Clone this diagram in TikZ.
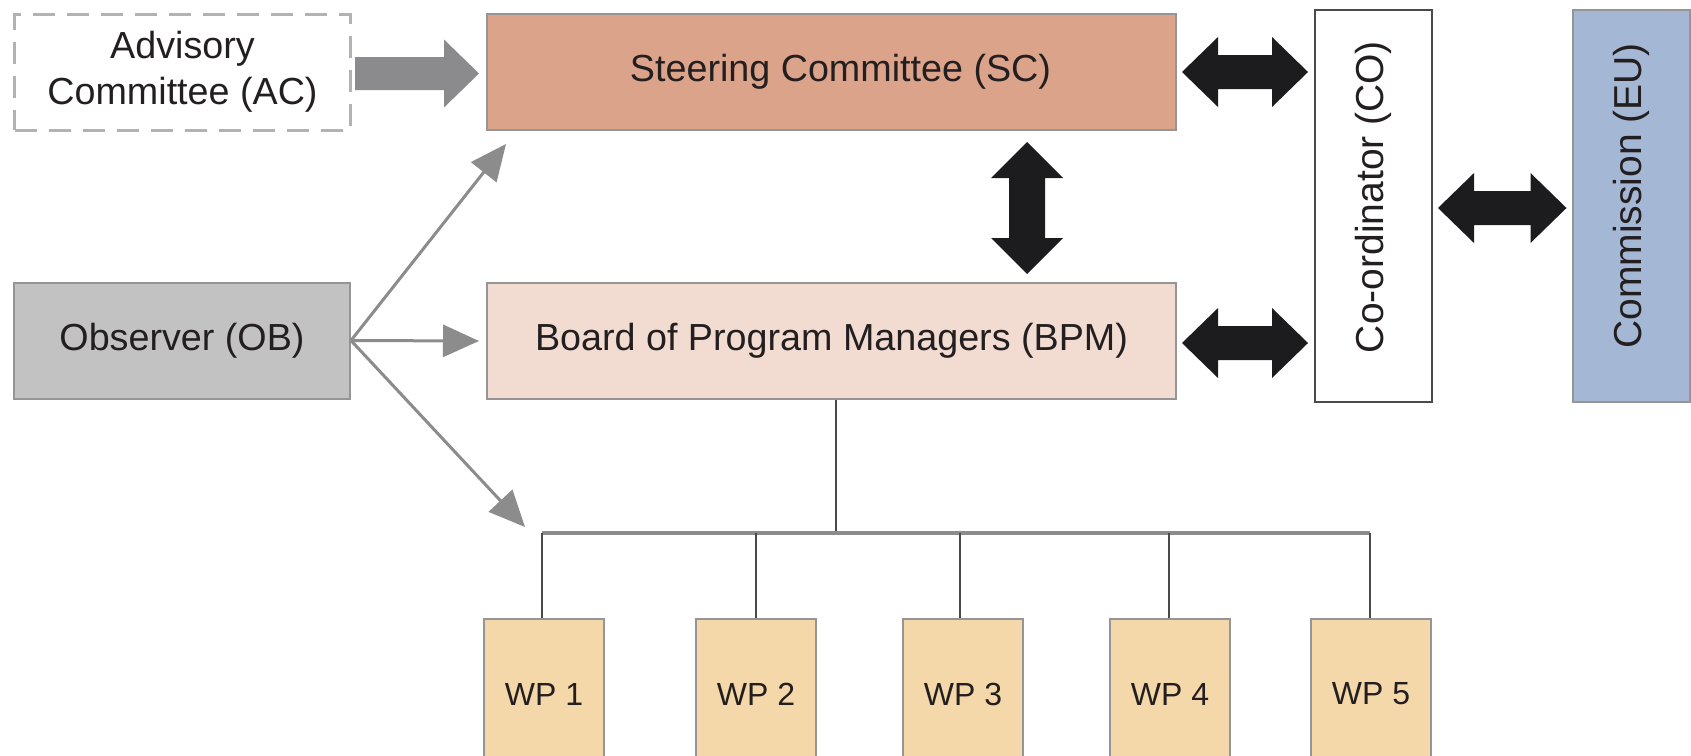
\documentclass[tikz,border=0pt]{standalone}
\usepackage{fontspec}
\setmainfont{Liberation Sans}
\usetikzlibrary{arrows.meta,calc}
\definecolor{scfill}{HTML}{DCA38B}
\definecolor{bpmfill}{HTML}{F2DCD1}
\definecolor{obfill}{HTML}{C2C2C2}
\definecolor{eufill}{HTML}{A4B7D4}
\definecolor{wpfill}{HTML}{F5D8A9}
\definecolor{boxline}{HTML}{959595}
\definecolor{txt}{HTML}{231F20}
\definecolor{thinarrow}{HTML}{8C8C8C}
\definecolor{blockgray}{HTML}{8B8B8D}
\definecolor{blockblack}{HTML}{1C1B1D}
\definecolor{darkline}{HTML}{4A4A4A}
\newcommand{\DblArrowH}[2]{%
  \fill[blockarrow] (#1) -- ($(#1)+(36,-35)$) -- ($(#1)+(36,-17)$) -- ($(#2)+(-36,-17)$) -- ($(#2)+(-36,-35)$) -- (#2)
   -- ($(#2)+(-36,35)$) -- ($(#2)+(-36,17)$) -- ($(#1)+(36,17)$) -- ($(#1)+(36,35)$) -- cycle;}
\newcommand{\DblArrowV}[2]{%
  \fill[blockarrow] (#1) -- ($(#1)+(36,36)$) -- ($(#1)+(18,36)$) -- ($(#2)+(18,-36)$) -- ($(#2)+(36,-36)$) -- (#2)
   -- ($(#2)+(-36,-36)$) -- ($(#2)+(-18,-36)$) -- ($(#1)+(-18,36)$) -- ($(#1)+(-36,36)$) -- cycle;}
\tikzset{
  box/.style={draw=boxline, line width=2pt, minimum width=689pt, minimum height=116pt, inner sep=0pt,
    text=txt, font=\fontsize{37.7}{46}\selectfont, align=center},
  sidebox/.style={box, minimum width=336pt},
  tallbox/.style={box, minimum width=117pt, minimum height=392pt, font=\fontsize{39}{46}\selectfont},
  wpbox/.style={box, fill=wpfill, minimum width=120pt, minimum height=150pt, anchor=north,
    font=\fontsize{32}{38}\selectfont},
  dashbox/.style={sidebox, draw=black!30, line width=3pt, dash pattern=on 22pt off 12pt},
  thin/.style={draw=thinarrow, line width=3pt, -{Triangle[length=36pt,width=32pt]}},
  blockarrow/.style={fill=blockblack},
  grayblock/.style={fill=blockgray},
  bus/.style={draw=thinarrow, line width=4pt},
  drop/.style={draw=darkline, line width=2pt}
}
\begin{document}
\begin{tikzpicture}[x=1pt,y=-1pt]
\useasboundingbox (0,0) rectangle (1691,755);
\clip (0,0) rectangle (1691,755);
\fill[white] (0,0) rectangle (1691,755);

% nodes
\node[dashbox] (AC) at (182.5,72) {Advisory\\Committee (AC)};
\node[box, fill=scfill] (SC) at (831.5,72) {\hspace{18pt}Steering Committee (SC)};
\node[sidebox, fill=obfill] (OB) at (182,340.5) {Observer (OB)};
\node[box, fill=bpmfill] (BPM) at (831.5,341) {Board of Program Managers (BPM)};
\node[tallbox, draw=darkline, fill=white] (CO) at (1373.5,206) {\rotatebox{90}{\hspace{18pt}Co-ordinator (CO)}};
\node[tallbox, fill=eufill] (EU) at (1631,206) {\rotatebox{90}{\hspace{20pt}Commission (EU)}};
\node[wpbox] (WP1) at (544,618) {WP 1};
\node[wpbox] (WP2) at (756,618) {WP 2};
\node[wpbox] (WP3) at (963,618) {WP 3};
\node[wpbox] (WP4) at (1170,618) {WP 4};
\node[wpbox] (WP5) at (1371,618) {WP 5};

% advisory block arrow
\coordinate (acA) at ($(AC.east)+(3,1.5)$);
\coordinate (acB) at ($(SC.west)+(-7,1.5)$);
\fill[grayblock] ($(acA)+(0,-16.5)$) -- ($(acB)+(-35,-16.5)$) -- ($(acB)+(-35,-34)$) -- (acB)
  -- ($(acB)+(-35,34)$) -- ($(acB)+(-35,16.5)$) -- ($(acA)+(0,16.5)$) -- cycle;

% black double arrows
\coordinate (sco1) at ($(SC.east)+(5,0)$);
\coordinate (sco2) at ($(SC.east -| CO.west)+(-6,0)$);
\DblArrowH{sco1}{sco2}
\coordinate (bco1) at ($(BPM.east)+(5,2)$);
\coordinate (bco2) at ($(BPM.east -| CO.west)+(-6,2)$);
\DblArrowH{bco1}{bco2}
\coordinate (ceu1) at ($(CO.east)+(5,2)$);
\coordinate (ceu2) at ($(CO.east -| EU.west)+(-5,2)$);
\DblArrowH{ceu1}{ceu2}
\coordinate (vt) at ($(SC.south west)+(541,11)$);
\coordinate (vb) at ($(BPM.north west)+(541,-8)$);
\DblArrowV{vt}{vb}

% observer arrows
\coordinate (obUp) at ($(SC.south west)+(20,13)$);
\coordinate (obDown) at ($(WP1.north)+(-19,-91)$);
\coordinate (obRight) at ($(BPM.west)+(-7,0)$);
\draw[thin] (OB.east) -- (obUp);
\draw[thin] (OB.east) -- (obRight);
\draw[thin] (OB.east) -- (obDown);

% tree
\coordinate (busL) at ($(WP1.north)+(-2,-85)$);
\coordinate (busR) at ($(WP5.north)+(-1,-85)$);
\coordinate (bpmS) at ($(BPM.south)+(4,0)$);
\draw[drop] (bpmS) -- (bpmS |- busL);
\draw[bus] (busL) -- (busR);
\foreach \w/\dx in {WP1/-2,WP2/0,WP3/-3,WP4/-1,WP5/-1}{
  \coordinate (dtop) at ($(\w.north)+(\dx,0)$);
  \draw[drop] (dtop) -- (dtop |- busL);
}
\end{tikzpicture}
\end{document}
